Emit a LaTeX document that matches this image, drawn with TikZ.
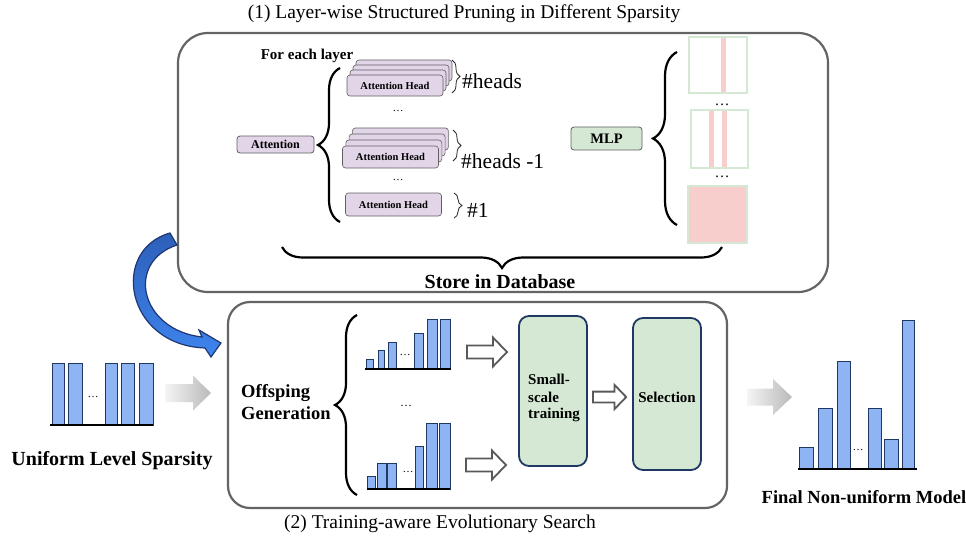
\documentclass[tikz,border=0pt]{standalone}
\usepackage{fontspec}
\setmainfont{Liberation Serif}
\usetikzlibrary{decorations.pathreplacing}
\definecolor{lav}{HTML}{E1D5E7}
\definecolor{lgreen}{HTML}{D5E8D4}
\definecolor{lpink}{HTML}{F8CECC}
\definecolor{barfill}{RGB}{143,180,244}
\definecolor{navy}{RGB}{31,56,100}
\definecolor{boxgray}{RGB}{100,100,100}
\definecolor{bluedark}{RGB}{30,55,115}
\definecolor{bluetop}{RGB}{45,95,185}
\definecolor{bluebot}{RGB}{62,132,238}
\newcommand{\fsz}[2]{\fontsize{#1}{#2}\selectfont}
\tikzset{
  panel/.style={draw=boxgray, line width=2.2pt, inner sep=0pt},
  headbox/.style={draw=gray!75!black, fill=lav, rounded corners=3pt, minimum width=96pt, minimum height=21pt, inner sep=0pt, line width=0.6pt, font=\fsz{10.5}{12}\bfseries},
  smallbox/.style={draw=gray!75!black, rounded corners=3pt, inner sep=0pt, line width=0.8pt},
  bigbrace/.style={decorate, decoration={brace, amplitude=22pt}, line width=2.2pt},
  thinbrace/.style={decorate, decoration={brace, amplitude=8pt}, line width=0.8pt, draw=gray!30!black},
  bar/.style={draw=navy, fill=barfill, line width=1pt},
  axisln/.style={line width=2pt},
  stage/.style={draw=navy, fill=lgreen, line width=1.8pt, rounded corners=10pt, inner sep=0pt},
  matbox/.style={draw=lgreen, line width=2pt},
  txt/.style={inner sep=0pt, anchor=base},
  hollowarrow/.pic={\draw[draw=gray!70!black, fill=white, line width=1.8pt, line join=miter]
     (0,-6.5) -- (26,-6.5) -- (26,-14.5) -- (40,0) -- (26,14.5) -- (26,6.5) -- (0,6.5) -- cycle;}
}
\begin{document}
\begin{tikzpicture}[x=1pt,y=-1pt]
\useasboundingbox (0,0) rectangle (966,542);
\fill[white] (0,0) rectangle (966,542);

% panels
\node[panel, rounded corners=30pt, minimum width=650pt, minimum height=259pt] (p1) at (503,162.5) {};
\node[panel, rounded corners=22pt, minimum width=499pt, minimum height=206pt] (p2) at (477.5,405) {};

% titles
\node[txt, font=\fsz{19.5}{23}] (t1) at (464,18) {(1) Layer-wise Structured Pruning in Different Sparsity};
\node[txt, font=\fsz{19.5}{23}] (t2) at (440,528) {(2) Training-aware Evolutionary Search};

% ---------- panel 1 ----------
\node[txt, font=\fsz{15}{18}\bfseries] (fel) at (307,59) {For each layer};
\node[smallbox, fill=lav, minimum width=77pt, minimum height=17pt, font=\fsz{12}{14}\bfseries] (att) at (275.5,144.5) {Attention};
\draw[bigbrace] (340,222) -- (340,68);

\foreach \k in {3,2,1} \node[headbox] (ha\k) at (395+3*\k,85.5-5*\k) {};
\node[headbox] (ha) at (395,85.5) {Attention Head};
\foreach \k in {3,2,1} \node[headbox, minimum height=22pt] (hb\k) at (390.5+3.3*\k,157-6*\k) {};
\node[headbox, minimum height=22pt] (hb) at (390.5,157) {Attention Head};
\node[headbox, minimum height=23pt] (hc) at (393.5,204.5) {Attention Head};

\node[txt, font=\fsz{11}{11}] (d1) at (398,111) {\ldots};
\node[txt, font=\fsz{11}{11}] (d2) at (398,180) {\ldots};

\draw[thinbrace] (452,60) -- (452,93);
\draw[thinbrace] (453,130) -- (453,161);
\draw[thinbrace] (454,193) -- (454,218);
\node[txt, anchor=base west, font=\fsz{21.5}{24}] (n1) at (462,88) {\#heads};
\node[txt, anchor=base west, font=\fsz{21.5}{24}] (n2) at (461,168) {\#heads -1};
\node[txt, anchor=base west, font=\fsz{21.5}{24}] (n3) at (467,217) {\#1};

\node[smallbox, fill=lgreen, minimum width=71pt, minimum height=23pt, font=\fsz{14.5}{16}\bfseries] (mlp) at (606.5,138.5) {MLP};
\draw[bigbrace, decoration={brace, amplitude=24pt}] (677,225) -- (677,52);

\fill[lpink] (721,37) rectangle (726,93);
\draw[matbox] (689,37) rectangle (747,93);
\node[txt, font=\fsz{15}{15}] (d3) at (722,105) {\ldots};
\fill[lpink] (709,110) rectangle (714,168);
\fill[lpink] (722,110) rectangle (727,168);
\draw[matbox] (691,110) rectangle (748,168);
\node[txt, font=\fsz{15}{15}] (d4) at (722,177) {\ldots};
\draw[matbox, fill=lpink] (688,186) rectangle (747,243);

\draw[bigbrace, decoration={brace, amplitude=21pt}] (722,247) -- (282,247);
\node[txt, font=\fsz{20}{24}\bfseries] (store) at (500,288) {Store in Database};

% blue curved arrow
\path[draw=bluedark, line width=1.2pt, top color=bluetop, bottom color=bluebot, line join=miter]
  (170,233) -- (177,245) .. controls (125,262) and (140,330) .. (202,337)
  -- (199,330) -- (221,343) -- (211,357) -- (205,348)
  .. controls (125,345) and (110,250) .. (170,233) -- cycle;

% ---------- left: uniform ----------
\foreach \a/\b in {52/64,68/82,105/117,121/134,139/153}
  \draw[bar] (\a,425) rectangle (\b,363);
\draw[axisln] (50,425) -- (153,425);
\node[txt, font=\fsz{11}{11}] (d5) at (93,397) {\ldots};
\node[txt, font=\fsz{20}{24}\bfseries] (unif) at (112,465) {Uniform Level Sparsity};

\path[left color=gray!8, right color=gray!100!black!55] (165,384) -- (193,384) -- (193,375.5) -- (211,393) -- (193,410.5) -- (193,402) -- (165,402) -- cycle;

% ---------- panel 2 ----------
\node[txt, anchor=base west, font=\fsz{18.5}{22}\bfseries] (og1) at (241,397) {Offsping};
\node[txt, anchor=base west, font=\fsz{18.5}{22}\bfseries] (og2) at (241,419) {Generation};
\draw[bigbrace] (357,495) -- (357,315);

\foreach \a/\b/\t in {366/373/359,378/384/350,388/396/342,414/423/333,427/437/319,440/450/319}
  \draw[bar] (\a,369) rectangle (\b,\t);
\draw[axisln] (365,369) -- (451,369);
\node[txt, font=\fsz{11}{11}] (d6) at (405,355) {\ldots};
\node[txt, font=\fsz{12}{12}] (d7) at (406,406) {\ldots};
\foreach \a/\b/\t in {367/375/476,377/386/463,387/396/463,415/423/446,426/437/423,439/450/423}
  \draw[bar] (\a,489) rectangle (\b,\t);
\draw[axisln] (367,489) -- (450,489);
\node[txt, font=\fsz{11}{11}] (d8) at (408,472) {\ldots};

\pic at (467,352) {hollowarrow};
\pic at (466,465) {hollowarrow};
\pic[scale=0.83] at (593,397) {hollowarrow};

\node[stage, minimum width=68pt, minimum height=150pt] (train) at (553,391) {};
\node[txt, anchor=base west, font=\fsz{15}{17}\bfseries] (tr1) at (528,384) {Small-};
\node[txt, anchor=base west, font=\fsz{15}{17}\bfseries] (tr2) at (528,402) {scale};
\node[txt, anchor=base west, font=\fsz{15}{17}\bfseries] (tr3) at (528,418) {training};
\node[stage, minimum width=68pt, minimum height=152pt] (sel) at (667,394) {};
\node[txt, font=\fsz{15}{17}\bfseries] (selt) at (667,402) {Selection};

% ---------- right: final ----------
\path[left color=gray!8, right color=gray!100!black!55] (747,388.5) -- (773,388.5) -- (773,379) -- (792,397) -- (773,415) -- (773,405.5) -- (747,405.5) -- cycle;
\foreach \a/\b/\t in {799/813/447,818/832/408,837/850/361,868/881/408,884/898/439,902/914/320}
  \draw[bar] (\a,469) rectangle (\b,\t);
\draw[axisln] (798,469) -- (917,469);
\node[txt, font=\fsz{11}{11}] (d9) at (858,450) {\ldots};
\node[txt, font=\fsz{18.5}{22}\bfseries] (fin) at (864,503) {Final Non-uniform Model};
\end{tikzpicture}
\end{document}
